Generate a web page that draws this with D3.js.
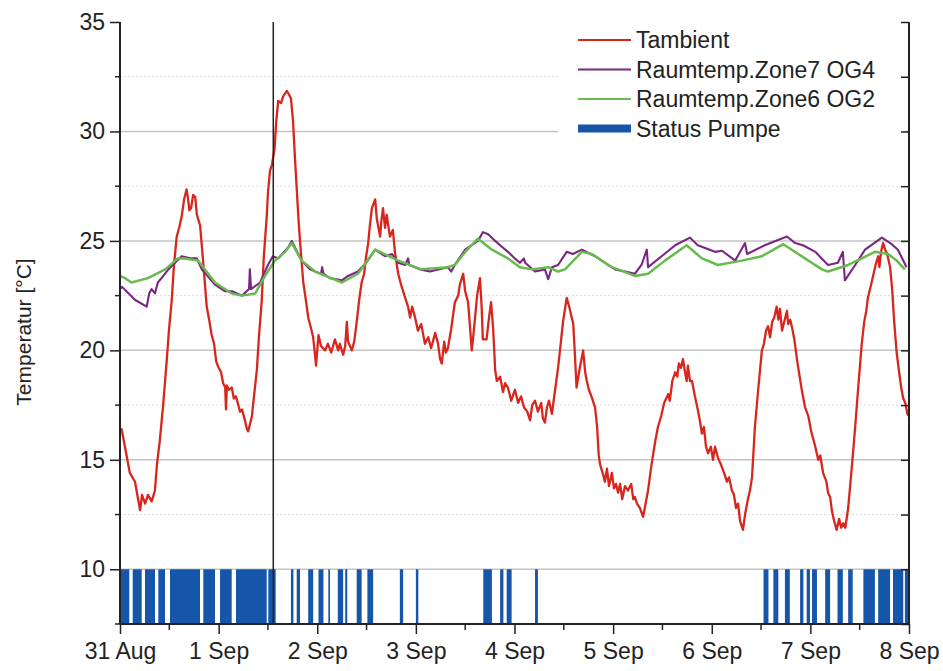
<!DOCTYPE html>
<html>
<head>
<meta charset="utf-8">
<script src="https://cdn.jsdelivr.net/npm/d3@7"></script>
<style>
  html, body { margin: 0; padding: 0; background: #fff; }
  svg { display: block; font-family: "Liberation Sans", Arial, sans-serif; }
</style>
</head>
<body>
<svg id="chart" width="943" height="671"></svg>
<script>
// Hours since 31 Aug 00:00 and outdoor temperature (°C)
const ambHours = [0,0.4,1.2,2.4,3.65,4.4,4.9,5.35,6.1,6.8,7.7,8.5,9.0,9.7,10.5,11.4,11.9,12.6,13.1,13.8,14.4,15.0,15.6,16.2,16.5,16.9,17.3,17.8,18.3,18.7,19.5,20.3,21.1,21.7,22.3,22.9,23.4,23.9,24.6,25.1,25.6,25.8,26.0,26.5,27.2,27.7,28.2,28.8,29.2,29.7,30.4,30.9,31.2,31.6,32.1,32.6,33.3,33.8,34.5,35.0,35.7,36.0,36.5,37.0,37.6,38.0,38.5,39.2,39.7,40.6,41.1,41.6,42.1,42.6,43.4,43.8,44.6,45.3,45.8,46.5,47.0,47.5,47.7,48.3,48.9,49.9,50.6,51.4,52.3,53.1,53.5,54.3,54.8,55.2,55.5,56.4,57.0,57.6,58.2,58.8,59.4,59.9,60.4,60.8,61.3,62.1,62.5,63.3,63.6,64.0,64.5,64.9,65.2,65.7,66.4,66.9,67.7,68.4,69.4,70.1,70.6,71.1,71.8,72.5,73.3,74.2,75.0,75.7,76.7,77.4,77.9,78.3,78.9,79.3,79.8,80.6,81.5,82.3,82.7,83.5,84.0,84.7,85.2,85.6,85.9,86.4,86.9,87.6,88.0,88.3,89.2,89.8,90.3,90.8,91.3,91.7,92.5,93.2,93.7,94.4,95.2,96.1,96.9,97.6,98.3,99.1,99.8,100.3,101.0,101.7,102.5,102.9,103.4,103.9,104.4,105.1,105.6,106.1,106.6,107.3,107.8,108.7,109.3,109.8,110.3,110.7,111.1,111.7,112.2,112.7,113.2,113.6,114.1,114.9,115.6,116.1,116.5,116.8,117.6,118.0,118.5,119.0,119.7,120.2,120.7,121.2,121.7,122.2,122.9,123.6,124.4,124.9,125.3,125.8,126.5,127.3,127.8,128.5,129.2,130.2,130.9,131.7,132.4,133.4,133.8,134.4,135.1,135.6,136.0,136.5,137.0,137.5,137.9,138.2,138.7,139.2,139.9,140.6,141.1,141.6,142.1,142.6,143.1,143.8,144.3,144.8,145.5,146.2,147.0,147.7,148.2,148.9,149.4,149.9,150.4,150.9,151.6,152.1,152.8,153.3,153.8,154.5,155.3,156.2,156.7,157.2,157.7,158.2,158.7,159.2,159.8,160.2,160.6,161.1,161.5,161.9,162.3,162.6,163.1,163.6,164.1,164.8,165.9,166.7,167.5,168.2,169.2,169.9,170.4,171.1,171.9,172.3,172.8,173.3,173.8,174.4,175.0,175.5,176.0,176.5,177.2,178.1,178.9,179.6,180.5,181.1,181.6,182.0,182.9,183.5,184.0,184.5,184.8,185.2,185.7,186.2,186.7,187.4,187.9,188.4,189.0,189.6,190.1,190.6,191.1,191.6,192.0];
const ambTemp = [16.3,16.4,15.6,14.4,14.0,13.2,12.7,13.4,13.0,13.4,13.1,13.6,14.8,15.9,17.5,19.6,20.9,22.3,23.8,25.2,25.6,26.1,26.9,27.35,27.0,26.4,26.5,27.1,27.0,26.2,25.7,23.9,22.0,21.4,20.7,20.3,19.5,19.25,19.0,18.5,18.3,17.3,18.4,18.2,18.3,17.8,17.9,17.5,17.2,17.3,16.8,16.4,16.3,16.6,17.0,17.9,19.1,20.6,22.3,24.3,26.1,27.2,28.2,28.5,29.2,30.4,31.4,31.3,31.6,31.85,31.7,31.5,30.5,28.7,26.1,25.0,23.1,22.2,21.5,21.0,20.6,19.7,19.3,20.7,20.2,20.0,20.3,19.9,20.5,20.0,20.3,19.8,20.2,21.3,20.4,20.0,20.4,21.3,22.3,23.1,23.5,24.3,24.9,25.7,26.5,26.9,26.0,25.2,25.9,26.5,25.6,26.2,25.8,25.2,25.5,24.5,23.5,23.0,22.4,22.0,21.5,22.0,21.5,20.9,21.2,20.3,20.6,20.1,20.8,20.3,19.6,19.4,20.4,19.9,20.1,21.0,22.2,22.5,23.0,23.5,22.7,22.2,21.0,20.0,20.5,21.5,22.5,23.3,22.0,20.5,20.5,21.5,22.2,21.0,19.1,18.6,18.8,18.1,18.5,18.3,17.7,18.2,17.6,17.9,17.4,17.2,16.8,17.5,17.7,17.2,17.6,16.9,16.7,17.4,17.7,17.1,17.8,18.5,19.2,20.4,21.3,22.4,22.0,21.6,21.2,19.8,18.3,19.0,19.5,20.0,19.0,18.6,18.2,17.8,17.4,16.5,15.2,14.8,14.3,14.0,14.6,13.8,14.4,13.7,13.9,13.5,13.9,13.2,13.8,13.6,13.9,13.2,13.3,13.0,12.8,12.4,12.9,13.6,14.6,15.8,16.5,17.0,17.6,18.0,17.7,18.6,19.0,18.8,19.4,19.2,19.6,19.0,18.6,19.3,18.6,18.6,17.9,17.3,16.8,16.2,16.5,15.6,15.3,15.6,15.0,15.6,15.1,14.8,14.4,14.0,14.2,13.6,13.4,12.8,13.0,12.2,11.8,12.5,13.2,13.6,14.2,16.5,18.2,20.0,20.3,20.9,21.1,20.6,21.3,21.5,22.0,21.4,21.9,20.9,21.2,21.5,21.8,21.2,21.4,21.0,20.5,19.5,18.2,17.4,17.0,16.3,15.6,15.0,15.2,14.4,14.0,13.5,13.3,12.6,12.2,11.8,12.3,11.9,12.1,11.9,12.8,14.7,16.5,18.2,20.3,21.3,21.8,22.4,23.1,23.6,24.0,24.3,23.8,24.5,24.9,24.6,24.4,23.8,22.8,21.3,19.9,19.0,18.3,17.8,17.6,17.1,17.0];

// Room temperature, zone 7 (OG4)
const zone7Hours = [0,0.5,3.7,6.5,7.1,7.7,8.5,9.2,10.1,11.8,13.4,15.0,17.4,18.7,19.9,23.1,25.6,27.3,29.7,31.4,31.6,31.9,34.1,36.0,37.2,38.5,40.9,41.8,44.2,46.2,48.9,49.2,49.5,51.1,54.0,55.5,57.9,59.9,62.1,64.5,66.2,67.7,69.4,70.1,70.4,73.0,75.4,79.8,80.6,81.8,84.0,87.1,88.3,89.6,91.3,92.5,94.4,96.1,97.3,98.3,98.6,101.0,103.4,104.2,105.1,106.6,108.7,110.2,112.4,115.6,118.8,120.5,125.3,126.9,128.2,128.5,131.8,135.1,138.7,140.6,144.8,146.5,149.7,152.1,152.6,156.9,162.3,164.3,166.2,169.2,172.3,174.7,175.9,176.4,178.9,181.3,185.4,187.8,189.3,191.4];
const zone7Temp = [22.8,22.9,22.3,22.0,22.6,22.8,22.6,23.1,23.3,23.7,24.0,24.3,24.2,24.2,23.7,23.0,22.7,22.7,22.5,22.8,23.7,22.8,23.1,23.9,24.3,24.2,24.7,25.0,24.1,23.7,23.5,23.8,23.5,23.3,23.2,23.4,23.6,24.0,24.6,24.3,24.4,24.0,23.9,24.2,23.9,23.7,23.6,23.8,23.6,24.0,24.6,25.0,25.4,25.3,25.0,24.8,24.5,24.2,24.0,24.2,24.0,23.6,23.7,23.25,23.8,23.9,24.5,24.4,24.6,24.3,23.9,23.7,23.5,23.9,24.6,23.8,24.3,24.8,25.15,24.8,24.5,24.55,24.1,24.9,24.4,24.8,25.2,24.9,24.8,24.5,23.9,24.0,24.5,23.2,23.9,24.6,25.15,24.85,24.6,23.8];

// Room temperature, zone 6 (OG2)
const zone6Hours = [0,1.2,2.8,6.8,11.0,14.1,15.8,19.0,23.1,27.2,29.6,32.9,35.3,37.7,40.2,41.8,44.2,47.5,54.0,57.9,62.1,67.7,73.4,79.8,81.5,84.0,87.1,90.5,94.4,97.3,100.2,104.2,106.6,108.3,112.4,114.8,119.7,125.3,128.5,132.6,137.9,141.6,145.5,151.3,156.2,161.4,165.9,170.8,172.3,177.2,180.5,183.7,186.9,189.0,191.0];
const zone6Temp = [23.4,23.3,23.1,23.3,23.7,24.2,24.2,24.1,23.1,22.6,22.5,22.6,23.4,24.1,24.5,24.9,24.1,23.6,23.1,23.5,24.6,24.1,23.7,23.8,23.9,24.5,25.1,24.6,24.2,23.8,23.7,23.8,23.6,23.7,24.5,24.4,23.8,23.4,23.5,24.1,24.8,24.2,23.9,24.1,24.3,24.85,24.3,23.7,23.6,23.9,24.2,24.5,24.4,24.1,23.7];

// Pump running periods: start / end, hours since 31 Aug 00:00
const pumpOn = [0,3.09,6.08,9.32,12.17,20.27,24.34,28.23,36.09,41.6,43.0,45.8,48.3,50.7,53.0,54.8,57.6,60.2,68.1,72.0,88.4,92.5,94.1,101.0,156.6,159.0,161.8,165.5,167.1,168.4,171.6,174.6,177.2,180.9,184.5,188.1,191.0];
const pumpOff = [2.26,5.28,8.52,10.95,19.47,23.12,27.18,35.7,37.89,42.2,43.8,47.0,49.5,51.1,54.3,55.3,58.8,61.6,68.9,72.6,90.5,93.3,95.3,101.7,157.8,160.2,163.0,166.3,167.9,169.6,172.8,175.9,178.3,183.7,187.4,190.6,191.8];

// Marker line position (hours)
const markerHour = 37.3;

const yMajorTicks = [10, 15, 20, 25, 30, 35];
const yMinorTicks = [7.5, 12.5, 17.5, 22.5, 27.5, 32.5];
const seriesNames = ["Tambient", "Raumtemp.Zone7 OG4", "Raumtemp.Zone6 OG2", "Status Pumpe"];
const seriesColors = ["#d7261e", "#7a2683", "#66bb4c", "#1656a8"];
const yTitle = "Temperatur [°C]";

const startDate = new Date(2015, 7, 31);
const endDate = new Date(2015, 8, 8);
const toDate = h => new Date(startDate.getTime() + h * 3600e3);

const svg = d3.select("#chart");
const plotLeft = 120, plotRight = 909, plotTop = 22, plotBottom = 624;
const fontSize = 23;

const x = d3.scaleTime().domain([startDate, endDate]).range([plotLeft, plotRight]);
const y = d3.scaleLinear().domain([7.5, 35]).range([plotBottom, plotTop]);

// grid
const grid = svg.append("g");
grid.selectAll("line.major").data(yMajorTicks.filter(v => v < 35)).join("line")
  .attr("x1", plotLeft).attr("x2", plotRight)
  .attr("y1", d => y(d)).attr("y2", d => y(d))
  .attr("stroke", "#c4c4c4").attr("stroke-width", 1.5);
grid.selectAll("line.minor").data(yMinorTicks.filter(v => v > 7.5)).join("line")
  .attr("x1", plotLeft).attr("x2", plotRight)
  .attr("y1", d => y(d)).attr("y2", d => y(d))
  .attr("stroke", "#dcdcdc").attr("stroke-width", 1).attr("stroke-dasharray", "2,2");

// pump status bars between 7.5 and 10
svg.append("g").selectAll("rect").data(d3.zip(pumpOn, pumpOff)).join("rect")
  .attr("x", d => x(toDate(d[0])))
  .attr("width", d => Math.max(1, x(toDate(d[1])) - x(toDate(d[0]))))
  .attr("y", y(10)).attr("height", y(7.5) - y(10))
  .attr("fill", seriesColors[3]);

const line = d3.line().x(d => x(toDate(d[0]))).y(d => y(d[1]));
const series = [
  [ambHours, ambTemp, seriesColors[0], 2.3],
  [zone7Hours, zone7Temp, seriesColors[1], 2.1],
  [zone6Hours, zone6Temp, seriesColors[2], 2.5]
];
series.forEach(([hs, ts, c, w]) => {
  svg.append("path").datum(d3.zip(hs, ts))
    .attr("d", line).attr("fill", "none")
    .attr("stroke", c).attr("stroke-width", w).attr("stroke-linejoin", "round");
});

// marker line
svg.append("line")
  .attr("x1", x(toDate(markerHour))).attr("x2", x(toDate(markerHour)))
  .attr("y1", plotTop).attr("y2", plotBottom)
  .attr("stroke", "#222").attr("stroke-width", 1.5);

// legend
const lg = svg.append("g");
lg.append("rect").attr("x", 558).attr("y", plotTop + 1).attr("width", plotRight - 562).attr("height", 122).attr("fill", "#fff");
seriesNames.forEach((n, i) => {
  const yy = 40 + i * 29.5;
  lg.append("line").attr("x1", 578).attr("x2", 631).attr("y1", yy).attr("y2", yy)
    .attr("stroke", seriesColors[i]).attr("stroke-width", i === 3 ? 8 : 2);
  lg.append("text").attr("x", 636).attr("y", yy + 8).text(n)
    .attr("font-size", fontSize).attr("fill", "#222");
});

// axes
const axisColor = "#222";
const yAxis = svg.append("g").attr("transform", `translate(${plotLeft},0)`)
  .call(d3.axisLeft(y).tickValues(yMajorTicks).tickSize(10).tickPadding(5));
yAxis.append("g").selectAll("line").data(yMinorTicks).join("line")
  .attr("x1", -5).attr("x2", 0).attr("y1", d => y(d)).attr("y2", d => y(d))
  .attr("stroke", axisColor).attr("stroke-width", 1.5);

const rAxis = svg.append("g").attr("transform", `translate(${plotRight},0)`)
  .call(d3.axisLeft(y).tickValues(yMajorTicks.concat(yMinorTicks)).tickSize(8).tickFormat(""));

const xAxis = svg.append("g").attr("transform", `translate(0,${plotBottom})`)
  .call(d3.axisBottom(x).ticks(d3.timeDay.every(1)).tickSize(10).tickPadding(9)
    .tickFormat(d3.timeFormat("%-d %b")));
xAxis.append("g").selectAll("line").data(d3.timeHour.every(12).range(startDate, endDate).filter(d => d.getHours() === 12)).join("line")
  .attr("x1", d => x(d)).attr("x2", d => x(d)).attr("y1", 0).attr("y2", 6)
  .attr("stroke", axisColor).attr("stroke-width", 1.5);

[yAxis, rAxis, xAxis].forEach(g => {
  g.select(".domain").attr("stroke", axisColor).attr("stroke-width", 2);
  g.selectAll(".tick line").attr("stroke", axisColor).attr("stroke-width", 1.5);
  g.selectAll(".tick text").attr("font-size", fontSize).attr("fill", "#222")
    .attr("font-family", "Liberation Sans, Arial, sans-serif");
});
rAxis.select(".domain").attr("d", `M0,${plotTop}V${plotBottom}`);
yAxis.select(".domain").attr("d", `M0,${plotTop}V${plotBottom}`);
xAxis.select(".domain").attr("d", `M${plotLeft},0H${plotRight}`);

svg.append("text")
  .attr("transform", `translate(31,332) rotate(-90)`)
  .attr("text-anchor", "middle").attr("font-size", 21).attr("fill", "#222")
  .text(yTitle);
</script>
</body>
</html>
